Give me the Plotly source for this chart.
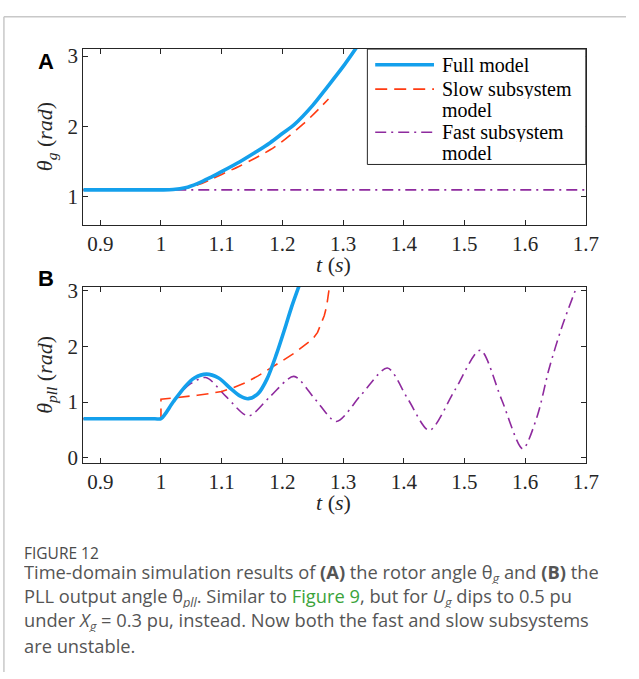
import plotly.graph_objects as go

W, H = 639, 679

# ---------------- data ----------------
# Panel A: rotor angle theta_g
tA_full = [0.872, 1.0, 1.02, 1.04, 1.06, 1.08, 1.10, 1.13, 1.155, 1.18, 1.20, 1.22, 1.25, 1.273, 1.30, 1.322]
vA_full = [1.1, 1.1, 1.105, 1.13, 1.19, 1.27, 1.36, 1.5, 1.63, 1.77, 1.9, 2.03, 2.3, 2.55, 2.85, 3.12]
tA_slow = [0.872, 1.0, 1.02, 1.04, 1.06, 1.08, 1.10, 1.13, 1.155, 1.18, 1.20, 1.235, 1.252, 1.276]
vA_slow = [1.1, 1.1, 1.1, 1.12, 1.17, 1.24, 1.32, 1.44, 1.55, 1.67, 1.79, 2.04, 2.18, 2.39]
tA_fast = [0.872, 1.7]
vA_fast = [1.1, 1.1]

# Panel B: PLL output angle theta_pll
tB_full = [0.872, 0.99, 1.0, 1.02, 1.04, 1.055, 1.075, 1.095, 1.115, 1.13, 1.144, 1.16, 1.175, 1.19, 1.205, 1.215, 1.228]
vB_full = [0.7, 0.7, 0.7, 1.0, 1.28, 1.43, 1.5, 1.43, 1.24, 1.11, 1.06, 1.15, 1.42, 1.85, 2.35, 2.7, 3.1]
tB_slow = [0.872, 1.0, 1.0, 1.03, 1.06, 1.08, 1.10, 1.12, 1.14, 1.16, 1.18, 1.20, 1.22, 1.24, 1.25, 1.258, 1.264, 1.269, 1.273, 1.276, 1.278]
vB_slow = [0.7, 0.7, 1.05, 1.08, 1.12, 1.15, 1.19, 1.26, 1.35, 1.47, 1.6, 1.74, 1.88, 2.04, 2.13, 2.25, 2.4, 2.55, 2.72, 2.9, 3.1]
tB_fast = [0.872, 0.99, 1.0, 1.02, 1.045, 1.074, 1.107, 1.144, 1.18, 1.219, 1.254, 1.289, 1.33, 1.373, 1.407,
           1.442, 1.484, 1.526, 1.561, 1.596, 1.62, 1.639, 1.66, 1.686]
vB_fast = [0.7, 0.7, 0.7, 1.0, 1.3, 1.44, 1.1, 0.75, 1.1, 1.46, 1.05, 0.65, 1.13, 1.61, 1.05,
           0.49, 1.21, 1.93, 1.05, 0.16, 0.75, 1.58, 2.33, 3.1]

x_ticks = [0.9, 1.0, 1.1, 1.2, 1.3, 1.4, 1.5, 1.6, 1.7]
x_tick_labels = ["0.9", "1", "1.1", "1.2", "1.3", "1.4", "1.5", "1.6", "1.7"]
yA_ticks = [1, 2, 3]
yB_ticks = [0, 1, 2, 3]
legend_labels = [["Full model"], ["Slow subsystem", "model"], ["Fast subsystem", "model"]]

# ---------------- styles ----------------
BLUE = "#14a0ec"
RED = "#ff3b12"
PURPLE = "#8e2a9e"
AX = "#262626"
SERIF = "Liberation Serif"


def px(x):
    return x / W


def py(y):
    return 1 - y / H


fig = go.Figure()

styles = [
    dict(color=BLUE, width=3.6, dash="solid"),
    dict(color=RED, width=1.6, dash="12px,7px"),
    dict(color=PURPLE, width=1.6, dash="11px,5px,2px,5px"),
]

seriesA = [(tA_full, vA_full), (tA_slow, vA_slow), (tA_fast, vA_fast)]
seriesB = [(tB_full, vB_full), (tB_slow, vB_slow), (tB_fast, vB_fast)]
for i in [2, 1, 0]:
    t, v = seriesA[i]
    fig.add_trace(go.Scatter(x=t, y=v, mode="lines", line=dict(**styles[i], shape="spline", smoothing=0.8),
                             xaxis="x", yaxis="y", showlegend=False, hoverinfo="skip"))
for i in [2, 1, 0]:
    t, v = seriesB[i]
    shape = "linear" if i == 1 else "spline"
    ln = dict(**styles[i], shape=shape)
    if shape == "spline":
        ln["smoothing"] = 0.8
    fig.add_trace(go.Scatter(x=t, y=v, mode="lines", line=ln,
                             xaxis="x2", yaxis="y2", showlegend=False, hoverinfo="skip"))

xdom = [px(85), px(598)]
common_x = dict(range=[0.872, 1.7], tickvals=x_ticks, ticktext=x_tick_labels, ticks="inside", ticklen=5,
                tickcolor=AX, showline=True, linecolor=AX, linewidth=1, mirror="ticks", showgrid=False,
                zeroline=False, tickfont=dict(family=SERIF, size=21, color=AX), domain=xdom)
common_y = dict(ticks="inside", ticklen=5, tickcolor=AX, showline=True, linecolor=AX, linewidth=1,
                mirror="ticks", showgrid=False, zeroline=False,
                tickfont=dict(family=SERIF, size=21, color=AX))

fig.update_layout(
    width=W, height=H,
    margin=dict(l=0, r=0, t=0, b=0),
    paper_bgcolor="white", plot_bgcolor="white",
    xaxis=dict(**common_x, anchor="y"),
    yaxis=dict(**common_y, range=[0.6, 3.1], tickvals=yA_ticks, domain=[py(222), py(42)], anchor="x"),
    xaxis2=dict(**common_x, anchor="y2"),
    yaxis2=dict(**common_y, range=[-0.09, 3.07], tickvals=yB_ticks, domain=[py(465), py(285)], anchor="x2"),
    showlegend=False,
)

shapes = []
annotations = []


def ann(x, y, text, size, family, color="black", xa="center", ya="middle", angle=0, align="center",
        height=None):
    a = dict(xref="paper", yref="paper", x=px(x), y=py(y), xanchor=xa, yanchor=ya,
             text=text, showarrow=False, textangle=angle, align=align,
             font=dict(family=family, size=size, color=color))
    if height is not None:
        a["height"] = height
    annotations.append(a)


# outer frame (top and left)
shapes.append(dict(type="line", xref="paper", yref="paper", x0=px(4), x1=1, y0=py(9), y1=py(9),
                   line=dict(color="#c8c8c8", width=1.5)))
shapes.append(dict(type="line", xref="paper", yref="paper", x0=px(4), x1=px(4), y0=py(9), y1=0,
                   line=dict(color="#c8c8c8", width=1.5)))

# manual legend box in panel A
shapes.append(dict(type="rect", xref="paper", yref="paper", x0=px(375), x1=px(598), y0=py(160), y1=py(42),
                   line=dict(color=AX, width=1), fillcolor="white", layer="above"))
leg_y = [58, 83, 127]
for i in range(3):
    st = styles[i]
    shapes.append(dict(type="line", xref="paper", yref="paper", x0=px(383), x1=px(443),
                       y0=py(leg_y[i]), y1=py(leg_y[i]),
                       line=dict(color=st["color"], width=st["width"], dash=st["dash"]), layer="above"))
    for k, line_text in enumerate(legend_labels[i]):
        ann(449, leg_y[i] + 21 * k, line_text, 20, SERIF, xa="left", height=20)

# panel labels
ann(47, 55, "<b>A</b>", 22, "Liberation Sans")
ann(47, 277, "<b>B</b>", 22, "Liberation Sans")

# axis titles
ann(47, 132, "<i>θ<sub>g</sub></i> (<i>rad</i>)", 22, SERIF, color=AX, angle=-90)
ann(47, 375, "<i>θ<sub>pll</sub></i> (<i>rad</i>)", 22, SERIF, color=AX, angle=-90)
ann(340, 262, "<i>t</i> (<i>s</i>)", 22, SERIF, color=AX)
ann(340, 506, "<i>t</i> (<i>s</i>)", 22, SERIF, color=AX)

# caption
CAP = "Open Sans"
ann(22, 557, "FIGURE 12", 15.5, CAP, color="#4a4a4a", xa="left", height=16)
cap_lines = [
    "Time-domain simulation results of <b>(A)</b> the rotor angle θ<sub><i>g</i></sub> and <b>(B)</b> the",
    "PLL output angle θ<sub><i>pll</i></sub>. Similar to <span style='color:#3aa33a'>Figure 9</span>, "
    "but for <i>U</i><sub><i>g</i></sub> dips to 0.5 pu",
    "under <i>X</i><sub><i>g</i></sub> = 0.3 pu, instead. Now both the fast and slow subsystems",
    "are unstable.",
]
cap_y = [578, 602, 627, 651]
for s, yy in zip(cap_lines, cap_y):
    ann(22, yy, s, 18.3, CAP, color="#555555", xa="left", height=22)

fig.update_layout(shapes=shapes, annotations=annotations)
fig.write_html("out.html")
